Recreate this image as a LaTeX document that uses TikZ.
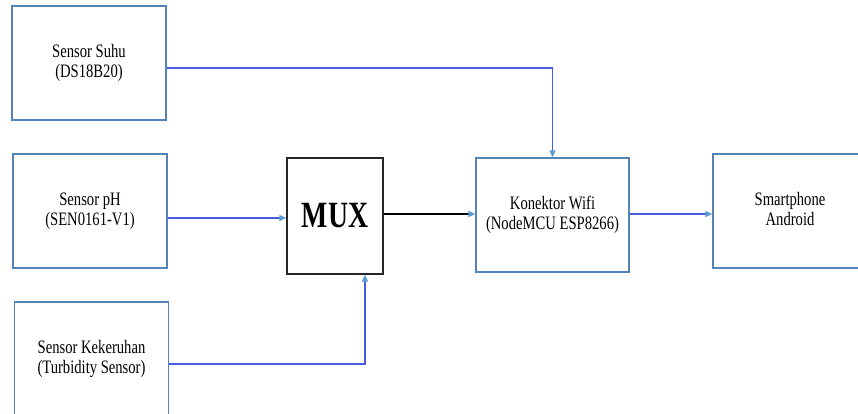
\documentclass[tikz,border=0pt]{standalone}
\usepackage{fontspec}
\setmainfont{Liberation Serif}
\usetikzlibrary{arrows.meta}
\definecolor{boxblue}{RGB}{84,130,185}
\definecolor{lineblue}{RGB}{72,92,222}
\definecolor{tipblue}{RGB}{91,155,213}
\newcommand{\twolines}[2]{\scalebox{0.77}[1]{\begin{tabular}{@{}c@{}}#1\\#2\end{tabular}}}
\begin{document}
\begin{tikzpicture}[x=1pt,y=-1pt,
  blk/.style={draw=boxblue,line width=1.3pt,fill=white,inner sep=0pt,
    minimum width=154pt,minimum height=114pt,
    font=\fontsize{19}{20}\selectfont},
  muxbox/.style={draw=black!85,line width=1.4pt,inner sep=0pt,
    minimum width=96pt,minimum height=116pt,
    font=\fontsize{37}{37}\selectfont\bfseries},
  ln/.style={draw=lineblue,line width=1.3pt,
    -{Triangle[length=7pt,width=6pt,color=tipblue]}},
  lnk/.style={draw=black,line width=1.3pt,
    -{Triangle[length=7pt,width=6pt,color=tipblue]}}]
\useasboundingbox (0,0) rectangle (858,413);
\clip (0,0) rectangle (858,413);
\node[blk] (suhu) at (89,63) {\twolines{Sensor Suhu}{(DS18B20)}};
\node[blk] (ph) at (90,211) {\twolines{Sensor pH}{(SEN0161-V1)}};
\node[blk] (kek) at (91.5,359) {\twolines{Sensor Kekeruhan}{(Turbidity Sensor)}};
\node[muxbox] (mux) at (335,216) {\scalebox{0.75}[1]{MUX}};
\node[blk,minimum width=153pt] (wifi) at (552.5,215) {\twolines{Konektor Wifi}{(NodeMCU ESP8266)}};
\node[blk] (phone) at (790,211) {\twolines{Smartphone}{Android}};
\draw[ln] ([yshift=-5pt]suhu.east) -| (wifi.north);
\draw[ln] ([yshift=-2pt]mux.west -| ph.east) -- ([yshift=-2pt]mux.west);
\draw[lnk] ([yshift=2pt]mux.east) -- ([yshift=2pt]mux.east -| wifi.west);
\draw[ln] ([yshift=-5pt]kek.east) -| ([xshift=30pt]mux.south);
\draw[ln] ([yshift=1pt]wifi.east) -- ([yshift=1pt]wifi.east -| phone.west);
\end{tikzpicture}
\end{document}
